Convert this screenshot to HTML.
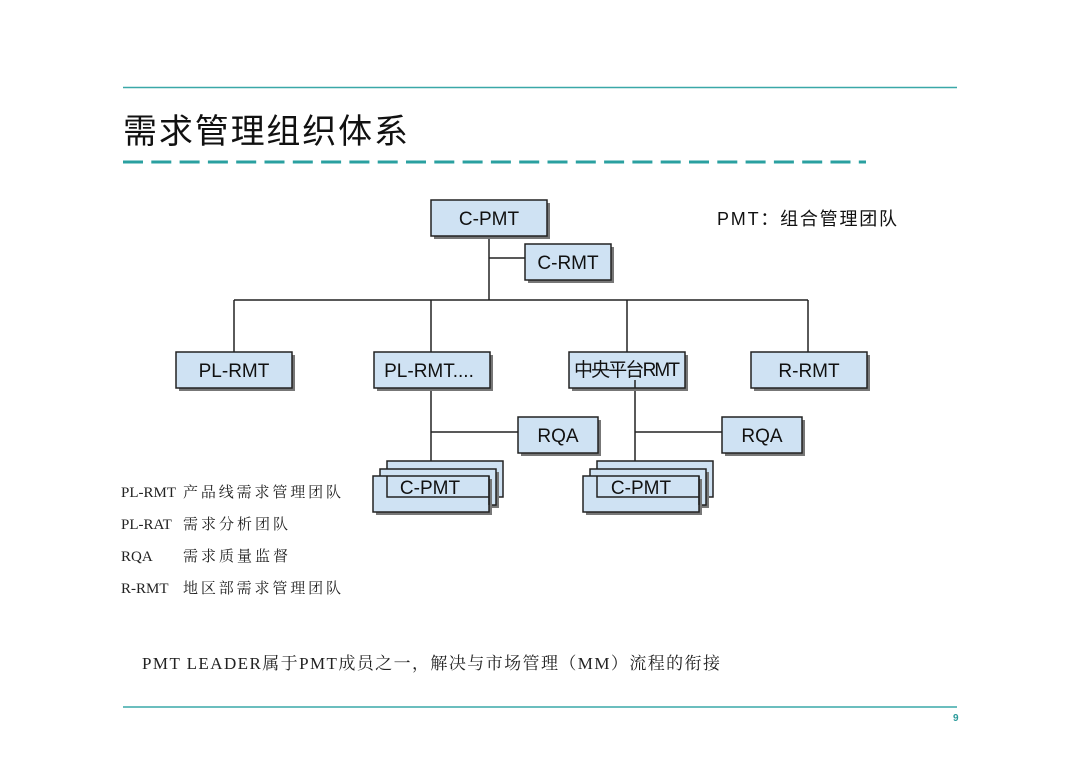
<!DOCTYPE html>
<html><head><meta charset="utf-8"><style>
html,body{margin:0;padding:0;background:#fff;}
svg{display:block}
.b{fill:#cfe2f3;stroke:#222;stroke-width:1.5}
.s{fill:#777}
.t{font-family:"Liberation Sans","Noto Sans CJK SC",sans-serif;font-size:19px;fill:#111;text-anchor:middle}
.l{font-family:"Liberation Serif","Noto Serif CJK SC",serif;font-size:15px;fill:#222}
</style></head><body>
<svg width="1080" height="763" viewBox="0 0 1080 763" xmlns="http://www.w3.org/2000/svg">
<line x1="123" y1="87.5" x2="957" y2="87.5" stroke="#3aa8a8" stroke-width="1.5"/>
<text x="123" y="143" font-family="'Noto Sans CJK SC',sans-serif" font-size="34" fill="#111" textLength="285">需求管理组织体系</text>
<line x1="123" y1="162" x2="866" y2="162" stroke="#2aa0a0" stroke-width="3" stroke-dasharray="20,8.3"/>
<g stroke="#222" stroke-width="1.5" fill="none">
<line x1="489" y1="236" x2="489" y2="300"/>
<line x1="489" y1="258" x2="525" y2="258"/>
<line x1="234" y1="300" x2="808" y2="300"/>
<line x1="234" y1="300" x2="234" y2="352"/>
<line x1="431" y1="300" x2="431" y2="352"/>
<line x1="627" y1="300" x2="627" y2="352"/>
<line x1="808" y1="300" x2="808" y2="352"/>
<line x1="431" y1="388" x2="431" y2="462"/>
<line x1="431" y1="432" x2="518" y2="432"/>
<line x1="635" y1="380" x2="635" y2="462"/>
<line x1="635" y1="432" x2="722" y2="432"/>
</g>
<!-- boxes -->
<g>
<rect class="s" x="434" y="203" width="116" height="36"/><rect class="b" x="431" y="200" width="116" height="36"/>
<rect class="s" x="528" y="247" width="86" height="36"/><rect class="b" x="525" y="244" width="86" height="36"/>
<rect class="s" x="179" y="355" width="116" height="36"/><rect class="b" x="176" y="352" width="116" height="36"/>
<rect class="s" x="377" y="355" width="116" height="36"/><rect class="b" x="374" y="352" width="116" height="36"/>
<rect class="s" x="572" y="355" width="116" height="36"/><rect class="b" x="569" y="352" width="116" height="36"/>
<rect class="s" x="754" y="355" width="116" height="36"/><rect class="b" x="751" y="352" width="116" height="36"/>
<rect class="s" x="521" y="420" width="80" height="36"/><rect class="b" x="518" y="417" width="80" height="36"/>
<rect class="s" x="725" y="420" width="80" height="36"/><rect class="b" x="722" y="417" width="80" height="36"/>
</g>
<line x1="635" y1="380" x2="635" y2="388" stroke="#222" stroke-width="1.5"/>
<!-- stacks -->
<g>
<rect class="b" x="387" y="461" width="116" height="36"/>
<rect class="s" x="383" y="472" width="116" height="36"/><rect class="b" x="380" y="469" width="116" height="36"/>
<rect class="s" x="376" y="479" width="116" height="36"/><rect class="b" x="373" y="476" width="116" height="36"/>
<path d="M387 476 V497 H489 M489 476 V505" stroke="#222" stroke-width="1.5" fill="none"/>
<rect class="b" x="597" y="461" width="116" height="36"/>
<rect class="s" x="593" y="472" width="116" height="36"/><rect class="b" x="590" y="469" width="116" height="36"/>
<rect class="s" x="586" y="479" width="116" height="36"/><rect class="b" x="583" y="476" width="116" height="36"/>
<path d="M597 476 V497 H699 M699 476 V505" stroke="#222" stroke-width="1.5" fill="none"/>
</g>
<text class="t" x="489" y="225">C-PMT</text>
<text class="t" x="568" y="269">C-RMT</text>
<text class="t" x="234" y="377">PL-RMT</text>
<text class="t" x="429" y="377">PL-RMT....</text>
<text class="t" x="627" y="376" font-size="16" textLength="106">中央平台RMT</text>
<text class="t" x="809" y="377">R-RMT</text>
<text class="t" x="558" y="442">RQA</text>
<text class="t" x="762" y="442">RQA</text>
<text class="t" x="430" y="494">C-PMT</text>
<text class="t" x="641" y="494">C-PMT</text>
<text x="717" y="225" font-family="'Liberation Sans','Noto Sans CJK SC',sans-serif" font-size="18" fill="#111" textLength="180">PMT：组合管理团队</text>
<text class="l" x="121" y="497">PL-RMT</text><text class="l" x="183" y="497" textLength="158">产品线需求管理团队</text>
<text class="l" x="121" y="529">PL-RAT</text><text class="l" x="183" y="529" textLength="105">需求分析团队</text>
<text class="l" x="121" y="561">RQA</text><text class="l" x="183" y="561" textLength="105">需求质量监督</text>
<text class="l" x="121" y="593">R-RMT</text><text class="l" x="183" y="593" textLength="158">地区部需求管理团队</text>
<text x="142" y="669" font-family="'Liberation Serif','Noto Serif CJK SC',serif" font-size="17" fill="#222" textLength="578">PMT LEADER属于PMT成员之一，解决与市场管理（MM）流程的衔接</text>
<line x1="123" y1="707" x2="957" y2="707" stroke="#3aa8a8" stroke-width="1.5"/>
<text x="953" y="721" font-family="'Liberation Sans',sans-serif" font-size="10" font-weight="bold" fill="#2a9a9a">9</text>
</svg>
</body></html>
